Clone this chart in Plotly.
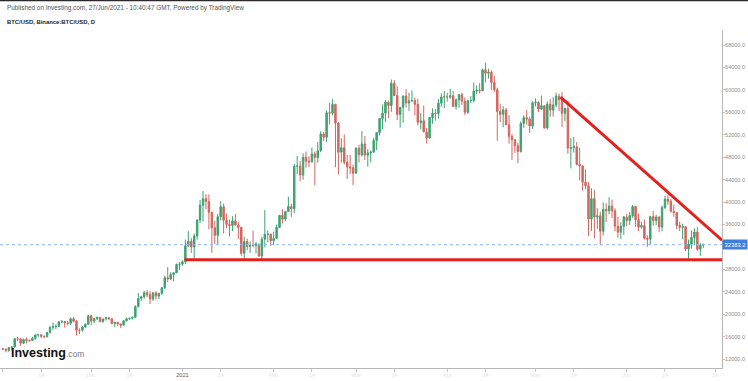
import pandas as pd
import plotly.graph_objects as go

# ---------------- data (daily BTC/USD, 1 Nov 2020 .. 27 Jun 2021) ----------------
start_date = "2020-11-01"
end_date = "2021-06-27"

opens = [
 # Nov 2020
 13791,13761,13549,14023,14145,15590,15580,14818,15475,15328,15297,15684,16291,16320,16070,
 15958,16717,17645,17777,17818,18622,18682,18407,18363,19160,18720,17150,17139,17720,18185,
 # Dec 2020
 19696,18764,19205,19422,18650,19147,19359,19166,18324,18541,18254,18036,18808,19175,19273,
 19426,21335,22797,23107,23821,23455,22719,23810,23232,23729,24712,26493,26281,27079,27385,28875,
 # Jan 2021
 28923,29331,32176,33000,31989,33950,36769,39432,40586,40088,38150,35410,34049,37371,39145,
 36738,35995,35824,36622,35901,35468,30851,32950,32078,32259,32254,32464,30362,33368,34246,34262,
 # Feb 2021
 33092,33518,35466,37619,36936,38289,39181,38796,46374,46420,44807,47969,47298,47156,48580,
 47911,49133,52118,51552,55906,55841,57412,54087,48891,49677,47073,46277,46104,
 # Mar 2021
 45134,49596,48436,50349,48374,48746,48883,50971,52376,54875,55851,57773,57222,61188,58976,
 55605,56900,58912,57641,58075,58085,57412,54204,54477,52508,51414,55074,55863,55782,57627,58730,
 # Apr 2021
 58741,58720,58950,57051,58202,59129,57990,56000,58060,58102,59774,59965,59835,63576,62959,
 63158,61334,60006,56150,55633,56426,53788,51690,51111,50047,49004,54022,55034,54824,53556,
 # May 2021
 57697,57797,56578,57169,53200,57436,56394,57315,58862,58241,55816,56670,49537,49682,49845,
 46716,46427,43538,42910,36964,40596,37305,37536,34770,38705,38400,39295,38436,35697,34617,35678,
 # Jun 2021
 37293,36684,37568,39188,36857,35521,35797,33557,33380,37389,36694,37341,35546,39020,40516,
 40144,38349,38100,35820,35483,35600,31614,32509,33675,34663,31577,32283,
]
highs = [
 13895,13830,14066,14259,15750,15965,15770,15650,15850,15460,15965,16340,16480,16326,16180,
 16880,17860,18477,18180,18815,18965,18750,18770,19418,19484,18915,17457,17880,18345,19863,
 19888,19342,19566,19527,19177,19420,19420,19294,18639,18557,18292,18948,19411,19349,19570,
 21560,23800,23285,24171,24295,24102,23837,24100,23789,24789,26867,28422,27500,27410,28996,29300,
 29600,33300,34778,33600,34360,36939,40365,41950,41380,41350,38264,36628,37850,40100,39747,
 37950,36852,37469,37850,36415,35600,33826,33456,32945,34875,32921,32557,33783,38531,34933,34342,
 34717,35984,37662,38708,38310,40955,39700,46794,48200,47310,48678,48985,48150,49707,49010,
 50689,52618,52530,56368,57700,58352,57508,54183,51374,52041,48424,48394,46638,
 49790,50200,52640,51773,49448,49200,51450,52402,54900,57387,58150,58081,61844,61724,60633,
 56938,58999,60129,59468,59880,58600,58430,55840,57200,53220,55073,56700,56559,58400,59368,59800,
 59490,60200,59791,58500,59251,59474,58650,58153,58894,61300,60800,61200,63777,64854,63800,
 63520,62506,60409,57526,57076,56757,55470,52130,51166,50567,54356,55459,56428,55200,57963,
 58458,57911,58981,57200,57930,58360,58650,59500,59300,59592,56862,58000,51367,51570,50700,
 49720,46600,45800,43546,42451,42200,38889,38271,39920,39791,40841,40411,38875,37338,36400,37499,
 37896,38225,39476,39289,37925,36480,36900,34068,37534,38392,37680,37437,39380,41064,41330,
 40528,39559,38200,36457,36137,35750,33298,34881,35298,35500,32700,32600,
]
lows = [
 13603,13195,13280,13525,14093,15191,14344,14703,14805,15072,15260,15440,15952,15714,15790,
 15870,16560,17214,17335,17740,18414,17610,18000,18020,18566,16188,16438,16865,17518,18185,
 18001,18330,18925,18565,18500,18857,18902,18200,17650,17911,17572,18020,18711,19000,19050,
 19278,21230,22350,22750,23060,21815,22353,22600,22703,23433,24500,25700,26101,25880,27320,27850,
 28624,28946,31963,30900,29900,33288,36300,36500,38720,35111,30950,32531,32380,36701,34408,
 35357,33850,34800,35844,33400,30400,29750,31390,30900,31910,30837,30250,29842,31915,32825,32171,
 32296,33418,35362,36161,36570,38215,37351,37988,45000,43727,43995,46125,46202,47014,42989,
 47003,48947,50901,50710,53863,55477,46212,44892,47003,46674,44106,45000,43000,
 45115,47047,48100,47500,46300,47070,48882,49274,51845,53005,54272,54962,56078,58966,54600,
 53271,54123,56850,56270,57820,55450,53650,53000,52550,50427,51302,53961,54473,54900,57000,56769,
 57935,58428,56900,56478,56800,57333,55473,55700,57654,57800,59250,59370,59800,61301,62020,
 60000,59581,50931,54221,53329,53695,50400,47500,48753,46930,48817,53222,53814,52330,53013,
 57052,56000,56435,53046,52900,55200,55241,56900,56235,53400,54370,48600,46000,48800,46555,
 43825,42001,42250,33900,34850,33488,35200,32300,34031,36419,37800,37134,34779,33632,33379,34153,
 35666,35920,37170,35555,34800,35258,33300,32000,32397,35782,35936,34600,34757,38730,39506,
 38116,37365,35129,34803,33336,31251,29800,31683,32286,31275,30400,31800,
]
closes = [
 13761,13549,14023,14145,15590,15580,14818,15475,15328,15297,15684,16291,16320,16070,15958,
 16717,17645,17777,17818,18622,18682,18407,18363,19160,18720,17150,17139,17720,18185,19696,
 18764,19205,19422,18650,19147,19359,19166,18324,18541,18254,18036,18808,19175,19273,19426,
 21335,22797,23107,23821,23455,22719,23810,23232,23729,24712,26493,26281,27079,27385,28875,28923,
 29331,32178,33000,31988,33949,36769,39432,40582,40088,38150,35404,34051,37371,39145,36742,
 35994,35828,36631,35891,35468,30850,32945,32078,32259,32254,32467,30366,33364,34252,34262,33092,
 33526,35466,37618,36936,38290,39186,38795,46374,46420,44807,47969,47287,47153,48577,47911,
 49133,52119,51552,55906,55841,57408,54087,48891,49676,47073,46276,46106,45135,
 49587,48440,50349,48374,48751,48882,50971,52376,54884,55851,57773,57221,61188,58968,55605,
 56900,58913,57665,58075,58085,57411,54204,54477,52508,51416,55074,55863,55783,57627,58730,58741,
 58720,58950,57051,58202,59129,57992,56000,58060,58102,59774,59965,59835,63576,62959,63159,
 61334,60006,56150,55633,56425,53787,51690,51125,50047,49004,54022,55034,54824,53555,57697,
 57795,56578,57169,53200,57436,56393,57314,58862,58240,55816,56670,49631,49671,49842,46709,
 46426,43537,42909,36964,40596,37305,37536,34771,38705,38402,39295,38437,35697,34617,35678,37332,
 36684,37575,39187,36857,35520,35796,33552,33380,37389,36693,37313,35546,39020,40516,40144,
 38349,38092,35819,35483,35600,31608,32509,33678,34663,31584,32283,32383,
]

last_price = 32383.2
support_level = [29700, 29700]
support_dates = ["2021-01-01 18:00", "2021-07-03 09:00"]
resist_levels = [58700, 33200]
resist_dates = ["2021-05-09 12:00", "2021-07-03 09:00"]

# 32000 is hidden behind the last-price label in the original
y_tick_vals = [12000, 16000, 20000, 24000, 28000, 36000, 40000,
               44000, 48000, 52000, 56000, 60000, 64000, 68000]
x_tick_dates = ["2020-11-01", "2020-11-14", "2020-12-01", "2020-12-14", "2021-01-01",
                "2021-01-14", "2021-02-01", "2021-02-14", "2021-03-01", "2021-03-14",
                "2021-04-01", "2021-04-14", "2021-05-01", "2021-05-14", "2021-06-01",
                "2021-06-14", "2021-07-01"]
x_tick_labels = ["Nov", "14", "Dec", "14", "2021", "14", "Feb", "14", "Mar", "14",
                 "Apr", "14", "May", "14", "Jun", "14", "Jul"]

dates = pd.date_range(start_date, end_date, freq="D")

# ---------------- figure ----------------
UP = "#3ca371"
DOWN = "#d2665e"

fig = go.Figure()
fig.add_trace(go.Candlestick(
    x=dates, open=opens, high=highs, low=lows, close=closes,
    increasing=dict(line=dict(color=UP, width=1), fillcolor=UP),
    decreasing=dict(line=dict(color=DOWN, width=1), fillcolor=DOWN),
    whiskerwidth=0, showlegend=False, hoverinfo="skip",
))

W, H = 748, 381
ML, MR, MT, MB = 0, 26, 30, 13
PW, PH = W - ML - MR, H - MT - MB


def px(xp):
    return (xp - ML) / PW


def py(yp):
    return (H - MB - yp) / PH


ticktext = []
for t in x_tick_labels:
    if t == "2021":
        ticktext.append("<span style='color:#555'>2021</span>")
    elif t == "Nov":
        ticktext.append("<span style='color:#999'>Nov</span>")
    else:
        ticktext.append("<span style='color:#e4e4e4'>%s</span>" % t)

fig.update_layout(
    width=W, height=H,
    margin=dict(l=ML, r=MR, t=MT, b=MB, pad=0, autoexpand=False),
    paper_bgcolor="white", plot_bgcolor="white",
    font=dict(family="Liberation Sans, Arial, sans-serif", size=7, color="#888"),
    xaxis=dict(
        type="date", range=["2020-10-31 00:00", "2021-07-03 09:00"],
        rangeslider=dict(visible=False),
        showgrid=False, zeroline=False,
        showline=True, linecolor="#b8b8b8", linewidth=1,
        ticks="outside", ticklen=3, tickcolor="#c8c8c8", tickwidth=1,
        tickmode="array", tickvals=x_tick_dates, ticktext=ticktext,
        tickfont=dict(size=5.5), ticklabelstandoff=-2, automargin=False,
    ),
    yaxis=dict(
        side="right", range=[10395, 70675],
        showgrid=False, zeroline=False,
        showline=True, linecolor="#b8b8b8", linewidth=1,
        ticks="outside", ticklen=2, tickcolor="#c8c8c8",
        tickmode="array", tickvals=y_tick_vals,
        ticktext=["%.1f" % v for v in y_tick_vals],
        tickfont=dict(size=5.5, color="#8a8a8a"), ticklabelstandoff=-1,
        automargin=False,
    ),
)

# current price dotted line
fig.add_shape(type="line", xref="paper", yref="y", x0=0, x1=1,
              y0=last_price, y1=last_price,
              line=dict(color="#8fb8ea", width=1, dash="dot"))

# red trend lines
fig.add_shape(type="line", xref="x", yref="y",
              x0=support_dates[0], x1=support_dates[1],
              y0=support_level[0], y1=support_level[1],
              line=dict(color="#e3201b", width=3))
fig.add_shape(type="line", xref="x", yref="y",
              x0=resist_dates[0], x1=resist_dates[1],
              y0=resist_levels[0], y1=resist_levels[1],
              line=dict(color="#e3201b", width=3))

# price label
fig.add_annotation(xref="paper", yref="y", x=1, y=last_price,
                   xanchor="left", yanchor="middle", xshift=0,
                   text="%.1f" % last_price, showarrow=False,
                   bgcolor="#3f7fdc", font=dict(color="white", size=5.8),
                   borderpad=1.5)

# top dark border
fig.add_shape(type="line", xref="paper", yref="paper", x0=0, x1=W / PW,
              y0=py(0.5), y1=py(0.5), line=dict(color="#2a2a2a", width=1.5))

# header texts
fig.add_annotation(xref="paper", yref="paper", x=px(5), y=py(8.5),
                   xanchor="left", yanchor="middle", showarrow=False,
                   text="Published on Investing.com, 27/Jun/2021 - 10:40:47 GMT, Powered by TradingView",
                   font=dict(size=6.4, color="#555"))
fig.add_annotation(xref="paper", yref="paper", x=px(5), y=py(22),
                   xanchor="left", yanchor="middle", showarrow=False,
                   text="<b>BTC/USD, Binance:BTC/USD, D</b>",
                   font=dict(size=5.9, color="#222"))

# Investing.com logo
fig.add_annotation(xref="paper", yref="paper", x=px(9), y=py(353),
                   xanchor="left", yanchor="middle", showarrow=False,
                   text="<b>Investing</b><span style='font-size:8.5px;color:#777'>.com</span>",
                   font=dict(size=12.5, color="#111",
                             family="Liberation Sans, Arial"))

fig.write_html("out.html", config={"displayModeBar": False},
               post_script="document.body.style.margin='0px';")
